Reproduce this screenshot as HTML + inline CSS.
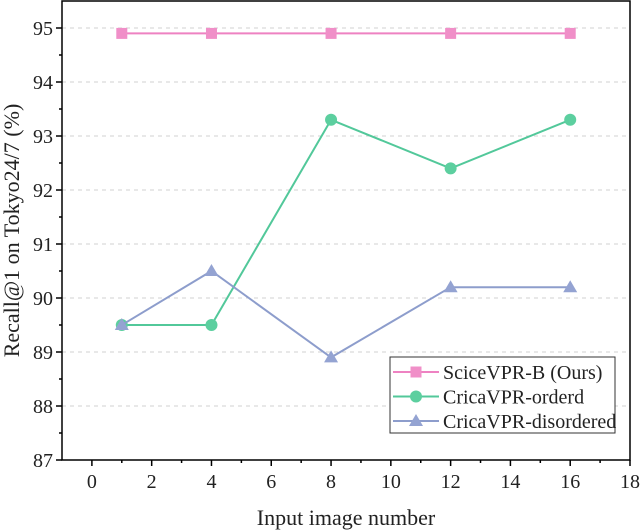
<!DOCTYPE html>
<html><head><meta charset="utf-8"><style>
html,body{margin:0;padding:0;background:#fff;}
svg{display:block;font-family:"Liberation Serif","Times New Roman",serif;}
</style></head><body>
<svg id="chart" width="640" height="532"></svg>
<script>
const xValues=[1,4,8,12,16];
const sciceVPR=[94.9,94.9,94.9,94.9,94.9];
const cricaOrdered=[89.5,89.5,93.3,92.4,93.3];
const cricaDisordered=[89.5,90.5,88.9,90.2,90.2];
const xTicks=[0,2,4,6,8,10,12,14,16,18];
const yTicks=[87,88,89,90,91,92,93,94,95];
const seriesNames=["SciceVPR-B (Ours)","CricaVPR-orderd","CricaVPR-disordered"];

const NS="http://www.w3.org/2000/svg";
const svg=document.getElementById('chart');
const L=62,R=630,T=1,B=460;
const xMin=-1,xMax=18,yMin=87,yMax=95.5;
const sx=v=>L+(v-xMin)/(xMax-xMin)*(R-L);
const sy=v=>B-(v-yMin)/(yMax-yMin)*(B-T);
function el(tag,attrs,parent){const e=document.createElementNS(NS,tag);for(const k in attrs)e.setAttribute(k,attrs[k]);(parent||svg).appendChild(e);return e;}

yTicks.forEach(v=>{const g=el('line',{x1:L,x2:R,y1:sy(v),y2:sy(v),stroke:'#d0d0d0','stroke-dasharray':'4 4','stroke-width':1});

});

const fr=el('rect',{x:L,y:T,width:R-L,height:B-T,fill:'none',stroke:'#000','stroke-width':1.5});



yTicks.forEach(v=>{
 el('line',{x1:L-6,x2:L,y1:sy(v),y2:sy(v),stroke:'#000','stroke-width':1.5});
 if(v<yMax-0.5) el('line',{x1:L-3,x2:L,y1:sy(v+0.5),y2:sy(v+0.5),stroke:'#000','stroke-width':1.5});
 const t=el('text',{x:L-9,y:sy(v)+7,'text-anchor':'end','font-size':20,fill:'#222'});t.textContent=v;
 
 
});
xTicks.forEach(v=>{
 el('line',{x1:sx(v),x2:sx(v),y1:B,y2:B+6,stroke:'#000','stroke-width':1.5});
 if(v>xMin+1) el('line',{x1:sx(v-1),x2:sx(v-1),y1:B,y2:B+3,stroke:'#000','stroke-width':1.5});
 const t=el('text',{x:sx(v),y:B+28,'text-anchor':'middle','font-size':20,fill:'#222'});t.textContent=v;
 
 
});

const xt=el('text',{x:(L+R)/2,y:525,'text-anchor':'middle','font-size':22,fill:'#222'});xt.textContent='Input image number';


const yt=el('text',{x:0,y:0,'text-anchor':'middle','font-size':22,fill:'#222',transform:`translate(19,${(T+B)/2}) rotate(-90)`});yt.textContent='Recall@1 on Tokyo24/7 (%)';



const colors=['#ee82c2','#52c89a','#8d9dcc'];
const fills=['#f08fc8','#5ccf9f','#94a3d2'];
const data=[sciceVPR,cricaOrdered,cricaDisordered];
function marker(i,x,y,parent){
 if(i===0) return el('rect',{x:x-5.5,y:y-5.5,width:11,height:11,fill:fills[i]},parent);
 if(i===1) return el('circle',{cx:x,cy:y,r:6,fill:fills[i]},parent);
 return el('polygon',{points:`${x},${y-7} ${x-7},${y+5} ${x+7},${y+5}`,fill:fills[i]},parent);
}
data.forEach((arr,i)=>{
 const g=el('g',{});
 
 
 el('polyline',{points:arr.map((v,j)=>sx(xValues[j])+','+sy(v)).join(' '),fill:'none',stroke:colors[i],'stroke-width':2},g);
 arr.forEach((v,j)=>{const m=marker(i,sx(xValues[j]),sy(v),g);
  
  });
});

const lg=el('g',{});


el('rect',{x:390,y:357,width:225,height:76,fill:'#fff',stroke:'#333','stroke-width':1},lg);
seriesNames.forEach((n,i)=>{
 const y=372+i*24.5;
 el('line',{x1:393,x2:439,y1:y,y2:y,stroke:colors[i],'stroke-width':2},lg);
 marker(i,416,y,lg);
 const t=el('text',{x:443,y:y+7,'font-size':20,fill:'#222'},lg);t.textContent=n;
 
 
});
</script>
</body></html>
